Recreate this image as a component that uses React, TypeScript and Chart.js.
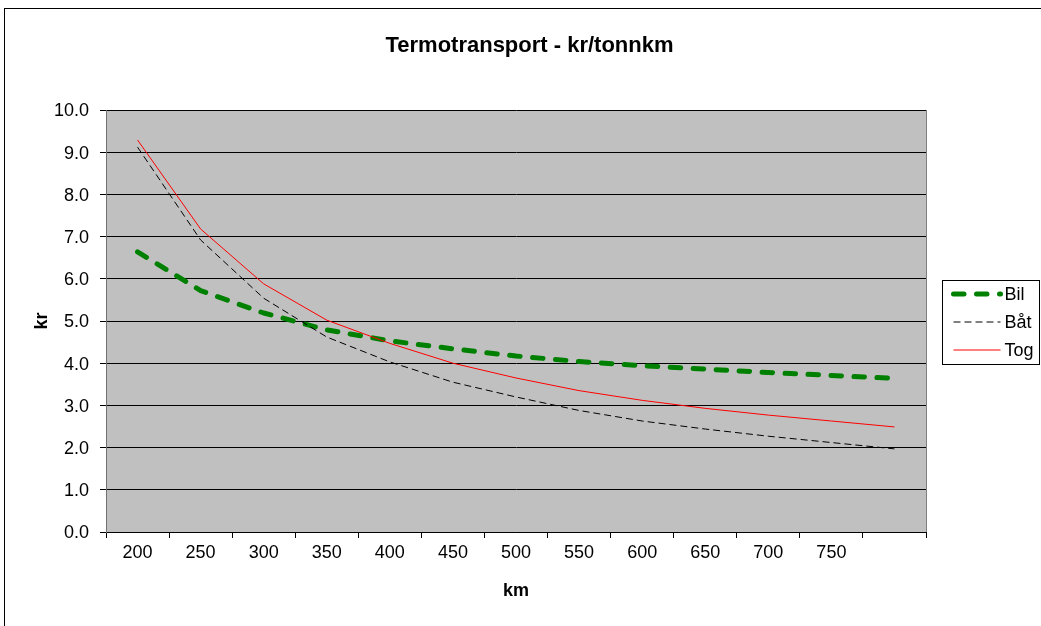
import React, { useEffect, useRef } from 'react';
import { Chart, registerables } from 'chart.js';

Chart.register(...registerables);

// ---- Data ----
const categories: string[] = ['200', '250', '300', '350', '400', '450', '500', '550', '600', '650', '700', '750', ''];
const seriesNames: string[] = ['Bil', 'Båt', 'Tog'];
const bilValues: number[] = [6.64, 5.72, 5.19, 4.79, 4.53, 4.34, 4.17, 4.04, 3.94, 3.86, 3.78, 3.71, 3.64];
const batValues: number[] = [9.12, 6.92, 5.54, 4.62, 4.03, 3.55, 3.2, 2.88, 2.63, 2.44, 2.27, 2.12, 1.97];
const togValues: number[] = [9.29, 7.18, 5.88, 5.02, 4.47, 4.0, 3.65, 3.35, 3.12, 2.93, 2.77, 2.63, 2.49];
const yMin = 0;
const yMax = 10;
const yStep = 1;
const chartTitle = 'Termotransport - kr/tonnkm';
const xTitle = 'km';
const yTitle = 'kr';

const FONT = "'Liberation Sans', Arial, Helvetica, sans-serif";

const backgroundPlugin = {
  id: 'excelBackground',
  beforeDraw(chart: any) {
    const { ctx, chartArea } = chart;
    ctx.save();
    ctx.fillStyle = '#ffffff';
    ctx.fillRect(0, 0, chart.width, chart.height);
    ctx.fillStyle = '#C0C0C0';
    ctx.fillRect(chartArea.left, chartArea.top, chartArea.right - chartArea.left, chartArea.bottom - chartArea.top);
    ctx.strokeStyle = '#000000';
    ctx.lineWidth = 1;
    ctx.strokeRect(4.5, 8.5, chart.width + 50, chart.height + 50);
    ctx.restore();
  },
  beforeDatasetsDraw(chart: any) {
    const { ctx, chartArea } = chart;
    ctx.save();
    ctx.strokeStyle = '#808080';
    ctx.lineWidth = 1;
    ctx.beginPath();
    const x = Math.round(chartArea.right) + 0.5;
    ctx.moveTo(x, chartArea.top);
    ctx.lineTo(x, chartArea.bottom);
    ctx.stroke();
    ctx.restore();
  },
};

const legendPlugin = {
  id: 'excelLegend',
  afterDraw(chart: any) {
    const { ctx, chartArea } = chart;
    const boxLeft = Math.round(chartArea.right) + 16.5;
    const boxTop = 280.5;
    const boxW = 97;
    const boxH = 84;
    ctx.save();
    ctx.strokeStyle = '#000000';
    ctx.lineWidth = 1;
    ctx.strokeRect(boxLeft, boxTop, boxW, boxH);
    chart.data.datasets.forEach((ds: any, i: number) => {
      const y = 294 + i * 28;
      ctx.save();
      ctx.strokeStyle = ds.borderColor;
      ctx.lineWidth = ds.borderWidth;
      ctx.setLineDash(ds.borderDash || []);
      ctx.lineCap = ds.borderCapStyle || 'butt';
      ctx.beginPath();
      ctx.moveTo(boxLeft + 11, y);
      ctx.lineTo(boxLeft + 58, y);
      ctx.stroke();
      ctx.restore();
      ctx.fillStyle = '#000000';
      ctx.font = `18px ${FONT}`;
      ctx.textBaseline = 'middle';
      ctx.textAlign = 'left';
      ctx.fillText(ds.label, boxLeft + 62, y + 1);
    });
    ctx.restore();
  },
};

export default function App() {
  const canvasRef = useRef<HTMLCanvasElement>(null);

  useEffect(() => {
    if (!canvasRef.current) return;
    const chart = new Chart(canvasRef.current, {
      type: 'line',
      data: {
        labels: categories,
        datasets: [
          {
            label: seriesNames[0],
            data: bilValues,
            borderColor: '#008000',
            backgroundColor: '#008000',
            borderWidth: 5,
            borderDash: [10.5, 12.5],
            borderCapStyle: 'round',
            borderJoinStyle: 'round',
            pointRadius: 0,
            tension: 0,
            order: 3,
          },
          {
            label: seriesNames[1],
            data: batValues,
            borderColor: '#000000',
            backgroundColor: '#000000',
            borderWidth: 1,
            borderDash: [7, 4],
            pointRadius: 0,
            tension: 0,
            order: 2,
          },
          {
            label: seriesNames[2],
            data: togValues,
            borderColor: '#FF0000',
            backgroundColor: '#FF0000',
            borderWidth: 1,
            pointRadius: 0,
            tension: 0,
            order: 1,
          },
        ],
      },
      options: {
        responsive: false,
        animation: false,
        events: [],
        layout: { padding: { left: 18, right: 0, top: 0, bottom: 0 } },
        plugins: {
          legend: { display: false },
          tooltip: { enabled: false },
          title: {
            display: true,
            text: chartTitle,
            color: '#000000',
            font: { family: FONT, size: 22, weight: 'bold' },
            padding: { top: 32.8, bottom: 50.8 },
          },
        },
        scales: {
          x: {
            type: 'category',
            offset: true,
            grid: {
              offset: true,
              drawOnChartArea: false,
              drawTicks: true,
              tickLength: 6,
              color: '#000000',
            },
            border: { color: '#000000' },
            ticks: {
              color: '#000000',
              font: { family: FONT, size: 18 },
              padding: 4,
              maxRotation: 0,
              autoSkip: false,
            },
            title: {
              display: true,
              text: xTitle,
              color: '#000000',
              font: { family: FONT, size: 18, weight: 'bold' },
              padding: { top: 0, bottom: 24.2 },
            },
            afterFit: (s: any) => {
              s.height = 94;
            },
          },
          y: {
            min: yMin,
            max: yMax,
            grid: { color: '#000000', drawTicks: true, tickLength: 6 },
            border: { color: '#707070' },
            ticks: {
              stepSize: yStep,
              color: '#000000',
              font: { family: FONT, size: 18 },
              padding: 11,
              labelOffset: 1.5,
              callback: (v: any) => Number(v).toFixed(1),
            },
            title: {
              display: true,
              text: yTitle,
              color: '#000000',
              font: { family: FONT, size: 18, weight: 'bold' },
              padding: { top: 13.2, bottom: 0 },
            },
            afterFit: (s: any) => {
              s.width = 88;
            },
          },
          legendSpace: {
            type: 'linear',
            position: 'right',
            display: true,
            grid: { display: false },
            border: { display: false },
            ticks: { display: false },
            afterFit: (s: any) => {
              s.width = 115;
            },
          },
        },
      },
      plugins: [backgroundPlugin, legendPlugin],
    } as any);
    return () => chart.destroy();
  }, []);

  return (
    <div style={{ position: 'absolute', left: 0, top: 0, width: 1041, height: 626 }}>
      <canvas ref={canvasRef} width={1041} height={626} style={{ display: 'block', width: 1041, height: 626 }} />
    </div>
  );
}
